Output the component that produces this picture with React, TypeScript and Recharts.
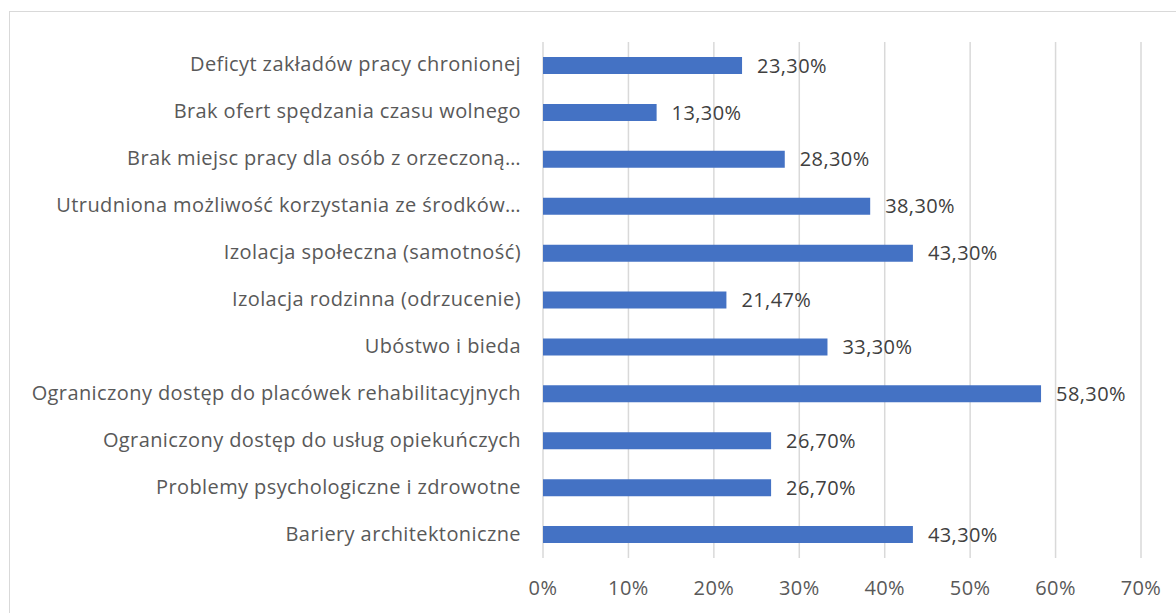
import React from 'react';
import { BarChart, Bar, XAxis, YAxis, CartesianGrid, LabelList } from 'recharts';

// categories top -> bottom as in the picture
const categories = [
  'Deficyt zakładów pracy chronionej',
  'Brak ofert spędzania czasu wolnego',
  'Brak miejsc pracy dla osób z orzeczoną…',
  'Utrudniona możliwość korzystania ze środków…',
  'Izolacja społeczna (samotność)',
  'Izolacja rodzinna (odrzucenie)',
  'Ubóstwo i bieda',
  'Ograniczony dostęp do placówek rehabilitacyjnych',
  'Ograniczony dostęp do usług opiekuńczych',
  'Problemy psychologiczne i zdrowotne',
  'Bariery architektoniczne',
];

const values = [23.3, 13.3, 28.3, 38.3, 43.3, 21.47, 33.3, 58.3, 26.7, 26.7, 43.3];

const xTicks = [0, 10, 20, 30, 40, 50, 60, 70];

const data = categories.map((name, i) => ({ name, value: values[i] }));

const FONT = '"Open Sans", Lato, sans-serif';
const TEXT = '#595959';
const LABEL = '#404040';
const FS = 20;
const LS = 0.4;

const fmtPct = (v: number) => v.toFixed(2).replace('.', ',') + '%';

const CategoryTick = (props: any) => {
  const { x, y, payload } = props;
  return (
    <text
      x={x - 14}
      y={y}
      dy={6}
      textAnchor="end"
      fill={TEXT}
      fontSize={FS}
      fontFamily={FONT}
      letterSpacing={LS}
    >
      {payload.value}
    </text>
  );
};

const App: React.FC = () => {
  return (
    <div style={{ position: 'absolute', left: 0, top: 0, width: 1176, height: 613, overflow: 'hidden', background: '#fff' }}>
      <div
        style={{
          position: 'absolute',
          left: 9,
          top: 11,
          width: 1200,
          height: 700,
          border: '1px solid #d9d9d9',
        }}
      />
      <BarChart
        width={1176}
        height={613}
        data={data}
        layout="vertical"
        margin={{ top: 42, right: 35, bottom: 15, left: 0 }}
        barSize={17}
        style={{ position: 'absolute', left: 0, top: 0 }}
      >
        <CartesianGrid vertical={true} horizontal={false} stroke="#d9d9d9" strokeWidth={1.5} />
        <XAxis
          type="number"
          domain={[0, 70]}
          ticks={xTicks}
          tickFormatter={(v: number) => `${v}%`}
          axisLine={false}
          tickLine={false}
          height={40}
          tick={{ fill: TEXT, fontSize: FS, fontFamily: FONT, letterSpacing: LS }}
          dy={15}
          interval={0}
        />
        <YAxis
          type="category"
          dataKey="name"
          width={543}
          axisLine={false}
          tickLine={false}
          tick={<CategoryTick />}
          interval={0}
        />
        <Bar dataKey="value" fill="#4472C4" isAnimationActive={false}>
          <LabelList
            dataKey="value"
            position="right"
            offset={15}
            formatter={(v: any) => fmtPct(Number(v))}
            fill={LABEL}
            fontSize={FS}
            fontFamily={FONT}
            letterSpacing={LS}
          />
        </Bar>
      </BarChart>
    </div>
  );
};

export default App;
